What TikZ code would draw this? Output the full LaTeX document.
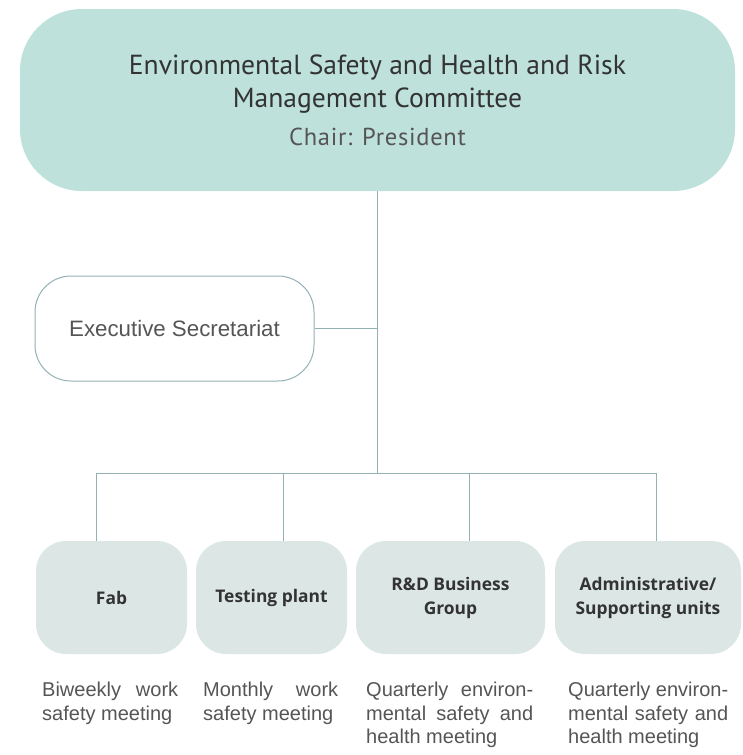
\documentclass[tikz,border=0pt]{standalone}
\usepackage{fontspec}
\setmainfont{Liberation Sans}
\newfontfamily\titlefont{PT Sans}
\newfontfamily\chairfont[LetterSpace=3]{PT Sans}
\newfontfamily\labelfont{Open Sans}
\definecolor{topfill}{HTML}{BEE1DB}
\definecolor{boxfill}{HTML}{DBE6E5}
\definecolor{linec}{HTML}{92B2B5}
\definecolor{darktext}{HTML}{333333}
\definecolor{midtext}{HTML}{555555}
\begin{document}
\begin{tikzpicture}[x=1pt,y=-1pt,
  topbox/.style={draw=none,fill=topfill,rounded corners=62pt,inner sep=0pt,align=center,text=darktext,font=\titlefont\fontsize{27.6}{33}\selectfont},
  execbox/.style={draw=linec,line width=1pt,fill=white,rounded corners=36pt,inner sep=0pt,text=midtext,font=\fontsize{22.3}{26}\selectfont},
  unitbox/.style={draw=none,fill=boxfill,rounded corners=30pt,inner sep=0pt,minimum height=113pt,align=center,text=darktext,font=\labelfont\bfseries\fontsize{17.4}{24}\selectfont},
  meettext/.style={anchor=north west,inner sep=0pt,align=left,text=midtext,font=\fontsize{20}{23.5}\selectfont},
  conn/.style={draw=linec,line width=1pt}]
\useasboundingbox (0,0) rectangle (743,755);
\node[topbox,minimum width=715pt,minimum height=182pt] (committee) at (377.5,100)
  {Environmental Safety and Health and Risk\\
   Management Committee\\[5pt]
   {\chairfont\fontsize{24.5}{33}\selectfont\color{midtext}Chair: President}};
\node[execbox,minimum width=279pt,minimum height=105pt] (exec) at (174.5,328.5) {Executive Secretariat};
\node[unitbox,minimum width=151pt] (fab) at (111.5,597.5) {Fab};
\node[unitbox,minimum width=151pt] (test) at (271.5,597.5) {Testing plant};
\node[unitbox,minimum width=189pt] (rd) at (450.5,597.5) {R\&D Business\\Group};
\node[unitbox,minimum width=186pt] (admin) at (648,597.5) {Administrative/\\Supporting units};
\coordinate (b1) at (96,473);
\coordinate (b2) at (283,473);
\coordinate (b3) at (469,473);
\coordinate (b4) at (656,473);
\coordinate (hub) at (committee.south |- b1);
\draw[conn] (committee.south) -- (hub);
\draw[conn] (exec.east) -- (exec.east -| committee.south);
\draw[conn] (b1) -- (b4);
\draw[conn] (b1) -- (b1 |- fab.north);
\draw[conn] (b2) -- (b2 |- test.north);
\draw[conn] (b3) -- (b3 |- rd.north);
\draw[conn] (b4) -- (b4 |- admin.north);
\node[meettext] (m1) at (42,682) {\makebox[136pt][s]{Biweekly work}\\safety meeting};
\node[meettext] (m2) at (203,682) {\makebox[135pt][s]{Monthly work}\\safety meeting};
\node[meettext] (m3) at (366,682) {\makebox[167pt][s]{Quarterly environ-}\\\makebox[167pt][s]{mental safety and}\\health meeting};
\node[meettext] (m4) at (568,682) {\makebox[160pt][s]{Quarterly environ-}\\\makebox[160pt][s]{mental safety and}\\health meeting};
\end{tikzpicture}
\end{document}
